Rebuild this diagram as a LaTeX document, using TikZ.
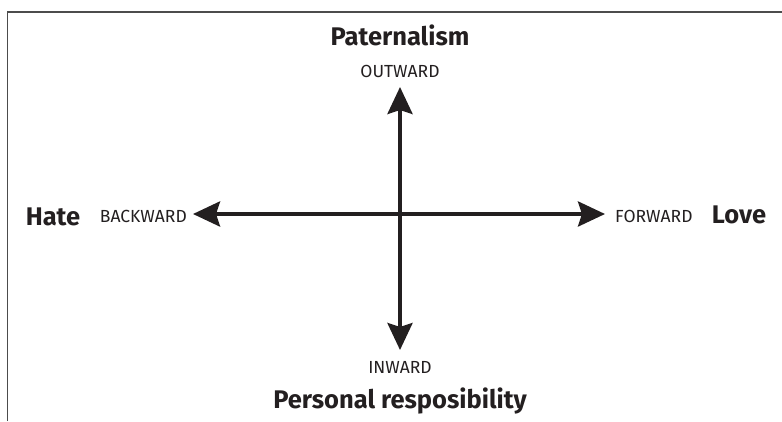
\documentclass[tikz,border=0pt]{standalone}
\usepackage{fontspec}
\setmainfont{Fira Sans}
\usetikzlibrary{arrows.meta}
\definecolor{ink}{HTML}{231F20}
\tikzset{
  axis/.style={line width=4pt, ink, {Stealth[length=27pt,width=25pt,inset=4pt]}-{Stealth[length=27pt,width=25pt,inset=4pt]}},
  pole/.style={font=\fontsize{25.5}{28}\selectfont\bfseries, text=ink, inner sep=0pt},
  dirlabel/.style={font=\fontsize{17.5}{20}\selectfont, text=ink, inner sep=0pt},
  frameline/.style={line width=1.5pt, gray!60!black}
}
\begin{document}
\begin{tikzpicture}[x=1pt,y=-1pt]
\useasboundingbox (0,0) rectangle (782,421);
\draw[frameline] (7.5,421) -- (7.5,12) -- (782,12);
% axis end points
\coordinate (top) at (400,87);
\coordinate (bottom) at (400,350);
\coordinate (left) at (193,214);
\coordinate (right) at (605,214);
\draw[axis] (top) -- (bottom);
\draw[axis] (left) -- (right);
% labels
\node[pole, anchor=base] (pat) at (400,45) {Paternalism};
\node[dirlabel, anchor=base] (out) at (400,77) {OUTWARD};
\node[dirlabel, anchor=base] (in) at (400,373) {INWARD};
\node[pole, anchor=base] (pers) at (400,408) {Personal resposibility};
\node[pole, anchor=base] (hate) at (53,225) {Hate};
\node[dirlabel, anchor=base east] (back) at (187,222) {BACKWARD};
\node[dirlabel, anchor=base west] (fwd) at (615,222) {FORWARD};
\node[pole, anchor=base] (love) at (739,223) {Love};
\end{tikzpicture}
\end{document}
